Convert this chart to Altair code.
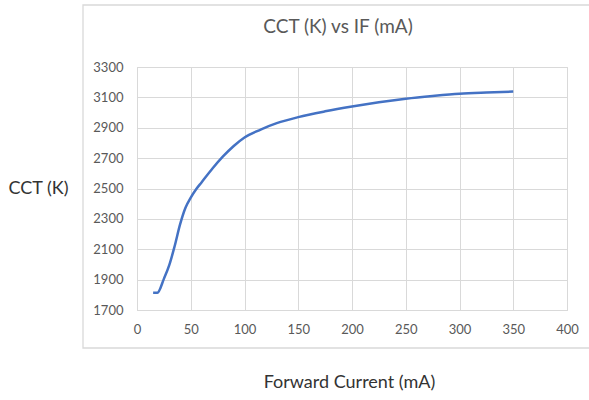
import altair as alt
import pandas as pd

# Forward current (mA) and measured correlated colour temperature (K)
current_ma = [15, 19, 25, 30, 35, 40, 45, 50, 55, 60, 70, 80, 90, 100, 115, 130,
              150, 175, 200, 225, 250, 275, 300, 325, 350]
cct_k = [1814, 1814, 1905, 1995, 2120, 2262, 2372, 2440, 2495, 2540, 2630, 2711,
         2780, 2836, 2888, 2930, 2970, 3008, 3040, 3068, 3091, 3109, 3124, 3132, 3138]

x_ticks = [0, 50, 100, 150, 200, 250, 300, 350, 400]
y_ticks = [1700, 1900, 2100, 2300, 2500, 2700, 2900, 3100, 3300]
chart_title = "CCT (K) vs IF (mA)"

df = pd.DataFrame({"IF": current_ma, "CCT": cct_k})

FONT = "Lato"
GRID = "#d9d9d9"
TICK_TXT = "#595959"

# Chart-area frame (light grey box around the plot and title)
frame = alt.Chart(alt.Data(values=[{}])).mark_rect(
    fill=None, stroke=GRID, strokeWidth=1.3
).encode(
    x=alt.value(-54), x2=alt.value(470),
    y=alt.value(-62), y2=alt.value(281),
)

# Chart title, placed inside the frame above the plot
title = alt.Chart(alt.Data(values=[{"t": chart_title}])).mark_text(
    font=FONT, fontSize=19, color=TICK_TXT, align="center", baseline="middle"
).encode(
    x=alt.value(201), y=alt.value(-40), text="t:N"
)

line = alt.Chart(df).mark_line(
    color="#4472C4", strokeWidth=2.5, interpolate="monotone"
).encode(
    x=alt.X("IF:Q",
            scale=alt.Scale(domain=[0, 400], nice=False, zero=False),
            axis=alt.Axis(values=x_ticks, title="Forward Current (mA)",
                          titleX=212, titleY=72, titleBaseline="middle",
                          titleAlign="center", labelFlush=False,
                          labelPadding=13, format="d")),
    y=alt.Y("CCT:Q",
            scale=alt.Scale(domain=[1700, 3300], nice=False, zero=False),
            axis=alt.Axis(values=y_ticks, title="CCT (K)", titleAngle=0,
                          titleX=-99, titleY=121, titleBaseline="middle",
                          titleAlign="center", labelFlush=False,
                          labelPadding=14, format="d")),
)

chart = alt.layer(frame, title, line).properties(
    width=430, height=243,
    autosize=alt.AutoSizeParams(type="none"),
    padding={"left": 137, "top": 67, "right": 22, "bottom": 90},
    background="white",
).configure_view(
    stroke=GRID, strokeWidth=1
).configure_axis(
    grid=True, gridColor=GRID, gridWidth=1,
    domain=True, domainColor=GRID, ticks=False,
    labelFont=FONT, labelFontSize=13, labelColor=TICK_TXT,
    titleFont=FONT, titleFontSize=18, titleColor="#333333",
    titleFontWeight="normal",
)

chart.save("out.html", embed_options={"renderer": "svg", "actions": False})
